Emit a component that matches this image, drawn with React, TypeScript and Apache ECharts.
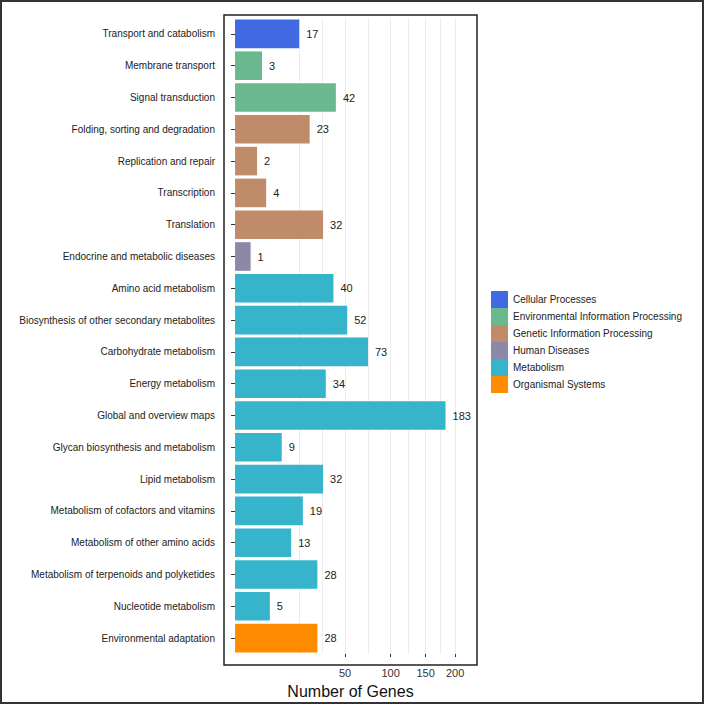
import React, { useEffect, useRef } from "react";
import * as echarts from "echarts";

const categories = [
  "Transport and catabolism",
  "Membrane transport",
  "Signal transduction",
  "Folding, sorting and degradation",
  "Replication and repair",
  "Transcription",
  "Translation",
  "Endocrine and metabolic diseases",
  "Amino acid metabolism",
  "Biosynthesis of other secondary metabolites",
  "Carbohydrate metabolism",
  "Energy metabolism",
  "Global and overview maps",
  "Glycan biosynthesis and metabolism",
  "Lipid metabolism",
  "Metabolism of cofactors and vitamins",
  "Metabolism of other amino acids",
  "Metabolism of terpenoids and polyketides",
  "Nucleotide metabolism",
  "Environmental adaptation",
];

const geneCounts = [17, 3, 42, 23, 2, 4, 32, 1, 40, 52, 73, 34, 183, 9, 32, 19, 13, 28, 5, 28];

const classOf = [0, 1, 1, 2, 2, 2, 2, 3, 4, 4, 4, 4, 4, 4, 4, 4, 4, 4, 4, 5];

const classNames = [
  "Cellular Processes",
  "Environmental Information Processing",
  "Genetic Information Processing",
  "Human Diseases",
  "Metabolism",
  "Organismal Systems",
];

const classColors = ["#4169E1", "#6BB88E", "#C08B69", "#8C89A8", "#35B4CB", "#FF8C00"];

const tickValues = [50, 100, 150, 200];
const minorGridValues = [17.1, 31.4, 73, 124, 174];

// square-root scale transform for the x axis
const sq = (v: number) => Math.sqrt(v);

export default function App() {
  const ref = useRef<HTMLDivElement>(null);
  useEffect(() => {
    document.body.style.margin = "0";
    if (!ref.current) return;
    const chart = echarts.init(ref.current, undefined, { renderer: "svg" });
    const font = "'Liberation Sans', Arial, sans-serif";
    const series: any[] = classNames.map((name, ci) => ({
      name,
      type: "bar",
      barGap: "-100%",
      barCategoryGap: "10%",
      itemStyle: { color: classColors[ci] },
      data: geneCounts.map((v, i) => (classOf[i] === ci ? sq(v) : "-")),
      label: {
        show: true,
        position: "right",
        distance: 7,
        fontFamily: font,
        fontSize: 11,
        color: "#222",
        formatter: (p: any) => String(geneCounts[p.dataIndex]),
      },
      z: 3,
    }));
    series.push({
      name: "grid",
      type: "bar",
      data: [],
      silent: true,
      z: 1,
      markLine: {
        silent: true,
        z: 1,
        symbol: "none",
        label: { show: false },
        lineStyle: { color: "#ececec", width: 1, type: "solid" },
        data: [...tickValues, ...minorGridValues].map((v) => ({ xAxis: sq(v) })),
      },
    });
    chart.setOption({
      animation: false,
      backgroundColor: "#fff",
      textStyle: { fontFamily: font },
      legend: {
        data: classNames,
        orient: "vertical",
        left: 491,
        top: 291,
        padding: 0,
        itemWidth: 17,
        itemHeight: 17,
        itemGap: 0,
        icon: "rect",
        textStyle: { fontFamily: font, fontSize: 10, color: "#222" },
        selectedMode: false,
      },
      grid: { left: 224, top: 18, width: 253, height: 644, containLabel: false },
      xAxis: {
        type: "value",
        min: -0.71,
        max: 15.55,
        name: "Number of Genes",
        nameLocation: "middle",
        nameGap: 29,
        nameTextStyle: { fontFamily: font, fontSize: 16, color: "#111" },
        axisLine: { show: false },
        splitLine: { show: false },
        axisTick: {
          show: true,
          length: 3,
          lineStyle: { color: "#333" },
          customValues: tickValues.map(sq),
        },
        axisLabel: {
          margin: 13,
          fontFamily: font,
          fontSize: 11,
          color: "#333",
          customValues: tickValues.map(sq),
          formatter: (v: number) => String(Math.round(v * v)),
        },
      },
      yAxis: {
        type: "category",
        inverse: true,
        data: categories,
        axisLine: { show: false },
        axisTick: { show: true, length: 4, alignWithLabel: true, lineStyle: { color: "#333" } },
        axisLabel: { margin: 9, fontFamily: font, fontSize: 10, color: "#222" },
        splitLine: { show: false },
      },
      graphic: [
        {
          type: "rect",
          shape: { x: 224, y: 15, width: 253, height: 650 },
          style: { fill: "none", stroke: "#222", lineWidth: 1.5 },
          z: 10,
          silent: true,
        },
        {
          type: "rect",
          shape: { x: 1, y: 1, width: 702, height: 702 },
          style: { fill: "none", stroke: "#333", lineWidth: 2 },
          z: 10,
          silent: true,
        },
      ],
      series,
    });
    return () => chart.dispose();
  }, []);
  return <div ref={ref} style={{ width: 704, height: 704 }} />;
}
